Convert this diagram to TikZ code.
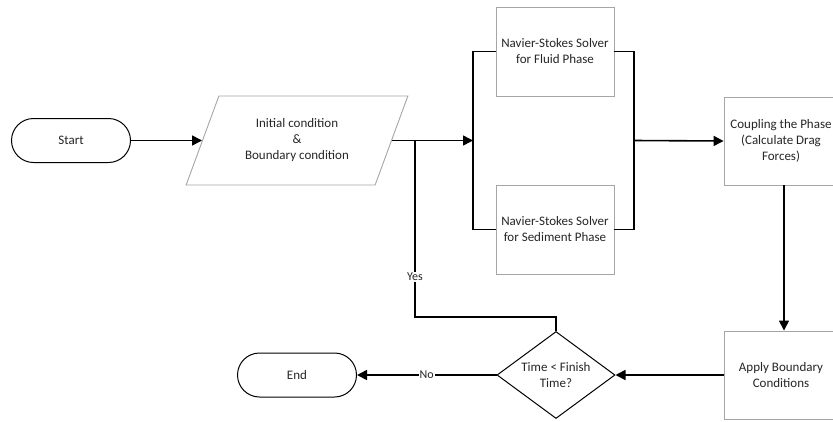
\documentclass[tikz,border=0pt]{standalone}
\usepackage{fontspec}
\setmainfont{Carlito}
\usetikzlibrary{arrows.meta,shapes.geometric,calc}
\definecolor{boxgray}{HTML}{A6A6A6}
\definecolor{txt}{HTML}{262626}
\begin{document}
\begin{tikzpicture}[x=1pt,y=1pt,
  every node/.style={font=\fontsize{13}{16}\selectfont, text=txt, align=center},
  terminal/.style={draw=black, line width=1pt, rounded corners=22pt, minimum width=119pt, minimum height=44pt, inner sep=0pt},
  procbox/.style={draw=boxgray, line width=0.9pt, minimum width=118pt, minimum height=89pt, inner sep=0pt},
  iobox/.style={draw=boxgray, line width=0.9pt, trapezium, trapezium left angle=63.2, trapezium right angle=116.8, trapezium stretches=true, minimum width=222pt, minimum height=89pt, inner sep=0pt},
  decision/.style={draw=black, line width=1pt, diamond, minimum width=118pt, minimum height=87pt, inner sep=0pt, aspect=1.34},
  conn/.style={line width=1.6pt, draw=black},
  arr/.style={conn, -{Triangle[length=10pt,width=10pt]}},
  lbl/.style={fill=white, inner sep=1pt, font=\fontsize{12}{14}\selectfont}
]
\fill[white] (0,0) rectangle (833,-421);
\useasboundingbox (0,0) rectangle (833,-421);
\clip (0,0) rectangle (833,-421);

\node[terminal] (start) at (71,-140.5) {Start};
\node[iobox] (init) at (297,-140.5) {Initial condition\\\&\\Boundary condition};
\node[procbox] (fluid) at (555,-51.5) {Navier-Stokes Solver\\for Fluid Phase};
\node[procbox] (sed) at (555,-229.5) {Navier-Stokes Solver\\for Sediment Phase};
\node[procbox, minimum width=114pt, minimum height=88pt] (couple) at (781,-141) {Coupling the Phase\\(Calculate Drag\\Forces)};
\node[procbox, minimum width=114pt, minimum height=88pt] (apply) at (781,-375) {Apply Boundary\\Conditions};
\node[decision] (dec) at (556,-375) {Time < Finish\\Time?};
\node[terminal] (end) at (297,-375) {End};

\path (init.top left corner) -- (init.bottom left corner) coordinate[pos=0.5] (initW);
\path (init.top right corner) -- (init.bottom right corner) coordinate[pos=0.5] (initE);
\coordinate (jl) at (473,-140.5);
\coordinate (jr) at (634,-140.5);
\coordinate (jy) at (415,-140.5);

\draw[arr] (start.east) -- (initW);
\draw[arr] (initE) -- (jl);
\draw[conn] (fluid.west) -- (jl |- fluid.west) |- (sed.west);
\draw[conn] (fluid.east) -- (jr |- fluid.east) |- (sed.east);
\draw[arr] (jr) -- (couple.west);
\draw[arr] (couple.south -| 784,0) -- (apply.north -| 784,0);
\draw[arr] (apply.west) -- (dec.east);
\draw[arr] (dec.west) -- node[lbl] {No} (end.east);
\draw[conn] (dec.north) -- ++(0,14) -| node[lbl, pos=0.613] {Yes} (jy);
\end{tikzpicture}
\end{document}
